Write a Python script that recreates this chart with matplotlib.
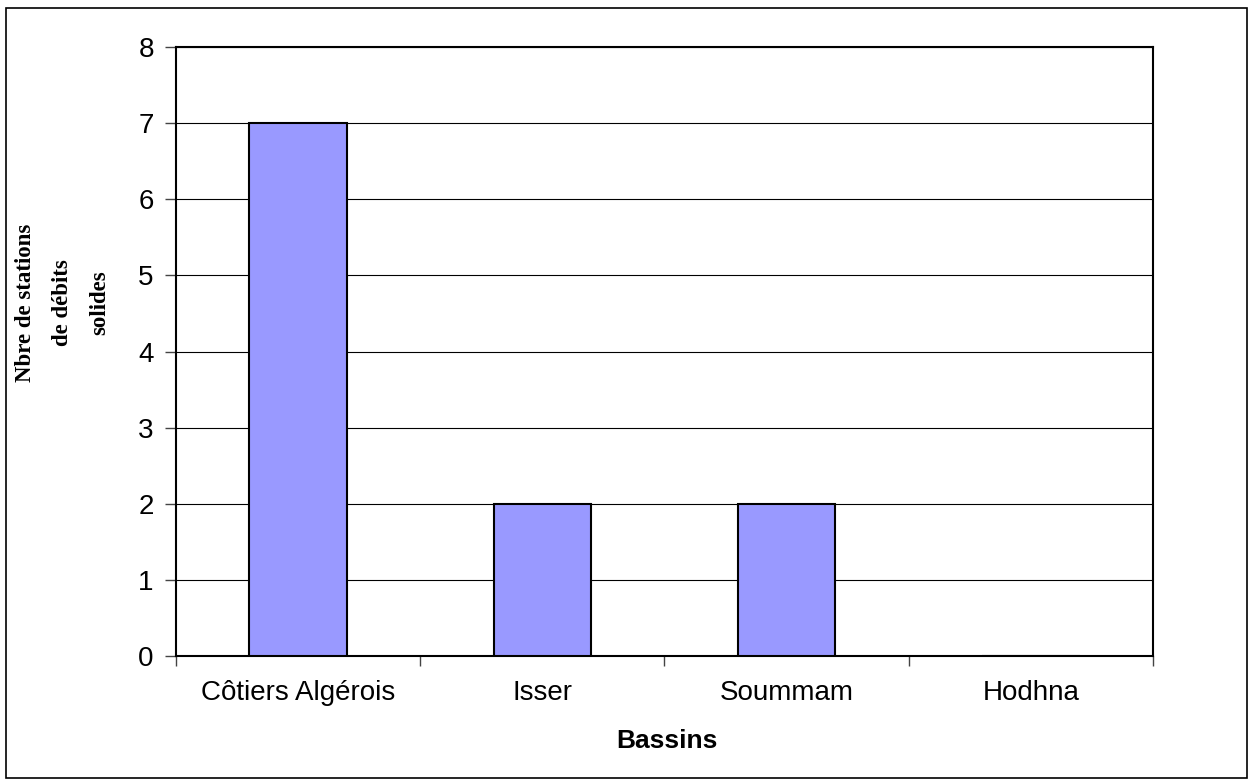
import matplotlib.pyplot as plt
from matplotlib.patches import Rectangle

bassins = ["Côtiers Algérois", "Isser", "Soummam", "Hodhna"]
stations = [7, 2, 2, 0]

fig = plt.figure(figsize=(12.51, 7.83), dpi=100)
W, H = 1251, 783
ax = fig.add_axes([176 / W, 1 - 656 / H, (1153 - 176) / W, (656 - 47) / H])

# frame around the whole figure
fig.patches.append(Rectangle((6 / W, 5 / H), 1241 / W, 770 / H, transform=fig.transFigure,
                             fill=False, edgecolor="black", linewidth=1.2))

x = range(len(bassins))
ax.bar(x, stations, width=0.4, color="#9999FF", edgecolor="black", linewidth=1.5, zorder=3)

ax.set_xlim(-0.5, len(bassins) - 0.5)
ax.set_ylim(0, 8)
ax.set_yticks(range(9))
ax.yaxis.grid(True, color="black", linewidth=0.8, zorder=0)

ax.set_xticks([i - 0.5 for i in range(len(bassins) + 1)])
ax.set_xticklabels([])
ax.set_xticks(list(x), minor=True)
ax.set_xticklabels(bassins, minor=True)
ax.tick_params(axis="x", which="minor", length=0, pad=17, labelsize=20)
ax.tick_params(axis="x", which="major", length=7, width=1, color="#444444")
ax.tick_params(axis="y", length=8, width=1, pad=8, labelsize=20, color="#444444")
for lab in ax.get_xticklabels(minor=True) + ax.get_yticklabels():
    lab.set_family("Liberation Sans")

for s in ax.spines.values():
    s.set_linewidth(1.5)

ax.set_xlabel("Bassins", fontsize=19, fontweight="bold", family="Liberation Sans")
ax.xaxis.set_label_coords(0.503, -0.12)

fig.text(63 / W, 1 - 303 / H, "Nbre de stations\nde débits\nsolides", rotation=90,
         ha="center", va="center", multialignment="center", fontsize=16.5,
         fontweight="bold", family="Liberation Serif", linespacing=2.0)

fig.savefig("out.png", dpi=100)
